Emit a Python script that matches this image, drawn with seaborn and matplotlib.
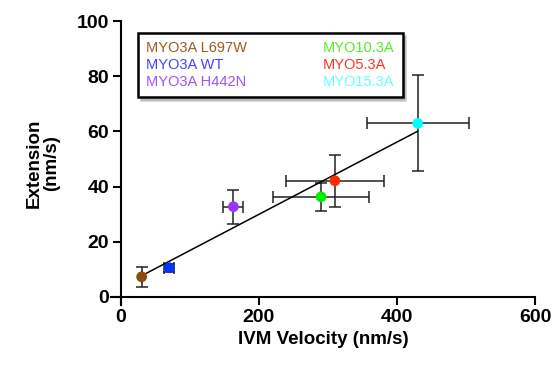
import matplotlib
matplotlib.use("Agg")
import matplotlib.pyplot as plt
import seaborn as sns
import pandas as pd
from matplotlib.lines import Line2D
from matplotlib.font_manager import FontProperties

# Datos
nombres = ["MYO3A L697W", "MYO3A WT", "MYO3A H442N", "MYO10.3A", "MYO5.3A", "MYO15.3A"]
velocidad = [30, 70, 163, 290, 310, 430]
velocidad_err = [0, 7, 14.5, 70, 70.5, 74]
extension = [7.3, 10.6, 32.7, 36.3, 42.1, 62.9]
extension_err = [3.7, 1.5, 6.2, 5.0, 9.5, 17.4]
colores_punto = ["#8B4A0E", "#0033FF", "#9933FF", "#00EE00", "#FF2A00", "#00FFFF"]
colores_texto = ["#9C5B20", "#4444FF", "#A050FF", "#55EE22", "#FF3322", "#66FFFF"]
xticks = [0, 200, 400, 600]
yticks = [0, 20, 40, 60, 80, 100]

df = pd.DataFrame({"nombre": nombres, "vel": velocidad, "vel_err": velocidad_err,
                   "ext": extension, "ext_err": extension_err})

sns.set_style("ticks")
plt.rcParams["font.family"] = ["Liberation Sans", "DejaVu Sans"]
plt.rcParams["axes.labelweight"] = "bold"
for k in ["text.color", "axes.labelcolor", "xtick.color", "ytick.color", "axes.edgecolor"]:
    plt.rcParams[k] = "black"

fig = plt.figure(figsize=(5.53, 3.70), dpi=100)
ax = fig.add_axes([0.2, 0.175, 0.7675, 0.7682])

# Barras de error
ax.errorbar(df["vel"], df["ext"], xerr=df["vel_err"], yerr=df["ext_err"],
            fmt="none", ecolor="#222222", elinewidth=1.1, capsize=4, capthick=1.1, zorder=2)

# Recta de regresión
sns.regplot(data=df, x="vel", y="ext", scatter=False, ci=None, truncate=True,
            line_kws={"color": "black", "linewidth": 1.1, "zorder": 3}, ax=ax)

# Puntos
sns.scatterplot(data=df, x="vel", y="ext", hue="nombre", palette=colores_punto,
                s=60, edgecolor="none", legend=False, zorder=4, ax=ax)

ax.set_xlim(-15, 600)
ax.set_ylim(-3, 100)
ax.spines["left"].set_position(("data", 0))
ax.spines["bottom"].set_position(("data", 0))
ax.spines["right"].set_visible(False)
ax.spines["top"].set_visible(False)
ax.spines["left"].set_bounds(-3, 100)
ax.spines["bottom"].set_bounds(-15, 600)
for s in ["left", "bottom"]:
    ax.spines[s].set_linewidth(1.5)

fp = FontProperties(family="Liberation Sans", weight="bold", size=14)
ax.set_xticks(xticks)
ax.set_yticks(yticks)
ax.tick_params(width=1.5, length=5.5, direction="out", pad=3)
ax.xaxis.set_ticks_position("bottom")
ax.set_xticklabels([str(t) for t in xticks], fontproperties=fp)
ax.set_yticklabels([str(t) for t in yticks], fontproperties=fp)

ax.set_xlabel("IVM Velocity (nm/s)", fontsize=13.5, labelpad=4)
ax.set_ylabel("Extension\n(nm/s)", fontsize=13.5, labelpad=12, linespacing=1.0)

# Leyenda sólo con texto coloreado
handles = [Line2D([], [], linestyle="none") for _ in nombres]
leg = ax.legend(handles, nombres, ncol=2, loc="upper left", bbox_to_anchor=(0.065, 0.958),
                borderaxespad=0, handlelength=0, handletextpad=0, columnspacing=5.2,
                labelcolor=colores_texto, prop={"size": 10.5, "weight": "normal"},
                frameon=True, fancybox=False, shadow={"color": "#999999"},
                labelspacing=0.22, borderpad=0.55)
leg.get_frame().set_edgecolor("black")
leg.get_frame().set_linewidth(1.8)

fig.savefig("out.png", dpi=100)
